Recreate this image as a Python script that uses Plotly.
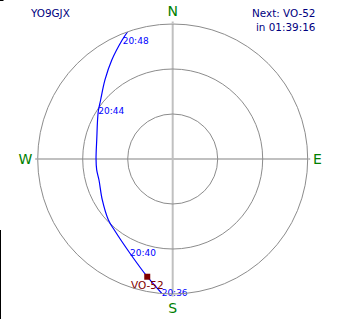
import plotly.graph_objects as go

# Satellite pass track (azimuth deg, elevation deg), from AOS to LOS
track_az = [184.7, 192.2, 204.4, 219.4, 226.5, 239.8, 254.1, 261.8, 270.0,
            284.0, 302.4, 309.3, 319.4, 328.4, 337.0, 340.5]
track_el = [0.2, 9.7, 21.0, 28.7, 30.9, 35.7, 38.9, 38.8, 38.9,
            37.8, 31.2, 27.9, 20.6, 12.5, 3.8, 0.0]

# Time labels along the pass
time_labels = ["20:36", "20:40", "20:44", "20:48"]
time_az = [184.7, 204.4, 302.4, 336.9]
time_el = [0.2, 21.0, 31.2, 5.0]

# Current satellite position
sat_name = ["VO-52"]
sat_az = [192.2]
sat_el = [9.7]

# Compass tick labels
compass_vals = [0, 90, 180, 270]
compass_text = ["N", "E", "S", "W"]
elev_rings = [30, 60]

station = "YO9GJX"
next_info = "Next: VO-52<br>in 01:39:16"


def zen(els):
    return [90 - e for e in els]


fig = go.Figure()
fig.add_trace(go.Scatterpolar(
    r=zen(track_el), theta=track_az, mode="lines",
    line=dict(color="#0000ff", width=1.2, shape="spline"),
    hoverinfo="skip", showlegend=False))
fig.add_trace(go.Scatterpolar(
    r=zen(time_el), theta=time_az, mode="text", text=time_labels,
    textposition="middle right",
    textfont=dict(family="DejaVu Sans", size=9, color="#0000ff"),
    hoverinfo="skip", showlegend=False))
fig.add_trace(go.Scatterpolar(
    r=zen(sat_el), theta=sat_az, mode="markers+text", text=sat_name,
    textposition="bottom center",
    marker=dict(symbol="square", size=6, color="#800000"),
    textfont=dict(family="DejaVu Sans", size=10.5, color="#800000"),
    hoverinfo="skip", showlegend=False))

fig.update_layout(
    width=344, height=319, autosize=False,
    margin=dict(l=0, r=0, t=0, b=0),
    paper_bgcolor="white", plot_bgcolor="white",
    polar=dict(
        domain=dict(x=[37.7 / 344, 307.7 / 344], y=[25 / 319, 295 / 319]),
        bgcolor="white",
        angularaxis=dict(
            rotation=90, direction="clockwise",
            tickmode="array", tickvals=compass_vals, ticktext=compass_text,
            tickfont=dict(family="DejaVu Sans", size=14, color="#008000"),
            showgrid=True, gridcolor="#c0c0c0", gridwidth=2,
            showline=True, linecolor="#8c8c8c", linewidth=1,
            ticks="outside", ticklen=2, tickwidth=2, tickcolor="#c0c0c0",
        ),
        radialaxis=dict(
            range=[0, 90], tickmode="array", tickvals=elev_rings,
            showticklabels=False, ticks="", showline=False,
            showgrid=True, gridcolor="#8c8c8c", gridwidth=1,
        ),
    ),
    annotations=[
        dict(text=station, x=28 / 344, y=1 - 12.5 / 319, xref="paper", yref="paper",
             xanchor="left", yanchor="middle", showarrow=False,
             font=dict(family="DejaVu Sans", size=10.4, color="#000080")),
        dict(text=next_info, x=317 / 344, y=1 - 5 / 319, xref="paper", yref="paper",
             xanchor="right", yanchor="top", align="right", showarrow=False,
             font=dict(family="DejaVu Sans", size=10.4, color="#000080")),
    ],
    shapes=[
        dict(type="line", xref="paper", yref="paper", x0=0, x1=3.5 / 344,
             y0=1 - 0.5 / 319, y1=1 - 0.5 / 319, line=dict(color="black", width=1)),
        dict(type="line", xref="paper", yref="paper", x0=0.5 / 344, x1=0.5 / 344,
             y0=0, y1=1 - 230 / 319, line=dict(color="black", width=1)),
    ],
)

fig.write_html("out.html")
